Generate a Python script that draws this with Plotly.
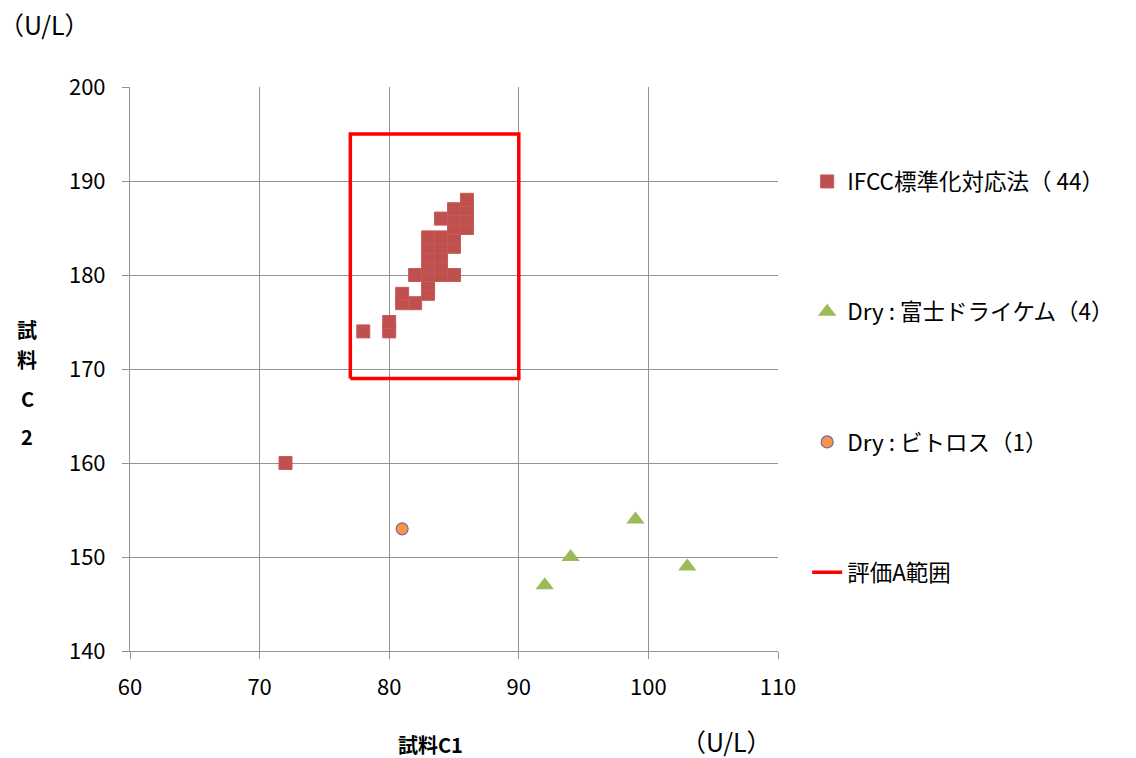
import plotly.graph_objects as go

# IFCC標準化対応法 (distinct visible points)
ifcc_x = [72, 78, 80, 80, 81, 81, 82, 82,
          83, 83, 83, 83, 83, 83, 83,
          84, 84, 84, 84, 84, 84,
          85, 85, 85, 85, 85, 85,
          86, 86, 86, 86]
ifcc_y = [160, 174, 174, 175, 177, 178, 177, 180,
          178, 179, 180, 181, 182, 183, 184,
          180, 181, 182, 183, 184, 186,
          180, 183, 184, 185, 186, 187,
          185, 186, 187, 188]

fuji_x = [92, 94, 99, 103]
fuji_y = [147, 150, 154, 149]

vitros_x = [81]
vitros_y = [153]

box_x = [77, 90, 90, 77, 77]
box_y = [169, 169, 195, 195, 169]

x_ticks = [60, 70, 80, 90, 100, 110]
y_ticks = [140, 150, 160, 170, 180, 190, 200]

ytitle_chars = ["試", "料", "C", "2"]
ytitle_pos = [174.2, 171.0, 166.9, 162.8]

FONT = "Noto Sans CJK JP, Noto Sans"
UNIT_FONT = "Noto Sans CJK SC, Noto Sans CJK JP"

fig = go.Figure()
fig.add_trace(go.Scatter(
    x=ifcc_x, y=ifcc_y, mode="markers", name="IFCC標準化対応法（ 44）",
    legendgroup="a",
    marker=dict(symbol="square", size=13, color="#C0504D",
                line=dict(color="#C65A57", width=1))))
fig.add_trace(go.Scatter(
    x=fuji_x, y=fuji_y, mode="markers", name="Dry : 富士ドライケム（4）",
    legendgroup="b",
    marker=dict(symbol="triangle-up", size=16, color="#9BBB59",
                line=dict(color="#9BBB59", width=0))))
fig.add_trace(go.Scatter(
    x=vitros_x, y=vitros_y, mode="markers", name="Dry : ビトロス（1）",
    legendgroup="c",
    marker=dict(symbol="circle", size=12, color="#F79646",
                line=dict(color="#8064A2", width=1.2))))
fig.add_trace(go.Scatter(
    x=box_x, y=box_y, mode="lines", name="評価A範囲",
    legendgroup="d",
    line=dict(color="#FF0000", width=3.5)))

axis_common = dict(
    showgrid=True, gridcolor="#939393", gridwidth=1,
    showline=True, linecolor="#939393", linewidth=1,
    ticks="outside", ticklen=7, tickcolor="#939393",
    zeroline=False,
    tickfont=dict(family=FONT, size=22, color="#000000"),
)

fig.update_xaxes(range=[60, 110], tickvals=x_ticks, ticklabelstandoff=10, **axis_common)
fig.update_yaxes(range=[140, 200], tickvals=y_ticks, ticklabelstandoff=12, **axis_common)

annotations = [
    dict(text="（U/L）", x=0, y=1, xref="paper", yref="paper",
         xanchor="left", yanchor="top", showarrow=False,
         xshift=-133, yshift=87 - 4,
         font=dict(family=UNIT_FONT, size=25)),
    dict(text="（U/L）", x=90, y=0, xref="x", yref="paper",
         xanchor="left", yanchor="top", showarrow=False,
         xshift=160, yshift=-70,
         font=dict(family=UNIT_FONT, size=25)),
    dict(text="<b>試料C1</b>", x=0, y=0, xref="paper", yref="paper",
         xanchor="center", yanchor="top", showarrow=False,
         xshift=300, yshift=-77,
         font=dict(family=FONT, size=20)),
]
for ch, yp in zip(ytitle_chars, ytitle_pos):
    annotations.append(dict(text="<b>" + ch + "</b>", x=0, y=yp, xref="paper", yref="y",
                            xanchor="center", yanchor="middle", showarrow=False,
                            xshift=-103, font=dict(family=FONT, size=20)))

fig.update_layout(
    width=1136, height=758,
    margin=dict(l=130, r=358, t=87, b=107),
    plot_bgcolor="white", paper_bgcolor="white",
    font=dict(family=FONT, size=22, color="#000000"),
    showlegend=True,
    legend=dict(
        x=1.045, y=0.87, xanchor="left", yanchor="top",
        tracegroupgap=98, itemwidth=30,
        font=dict(family=FONT, size=22.5, color="#000000"),
        bgcolor="rgba(0,0,0,0)",
    ),
    annotations=annotations,
)

fig.write_html("out.html")
